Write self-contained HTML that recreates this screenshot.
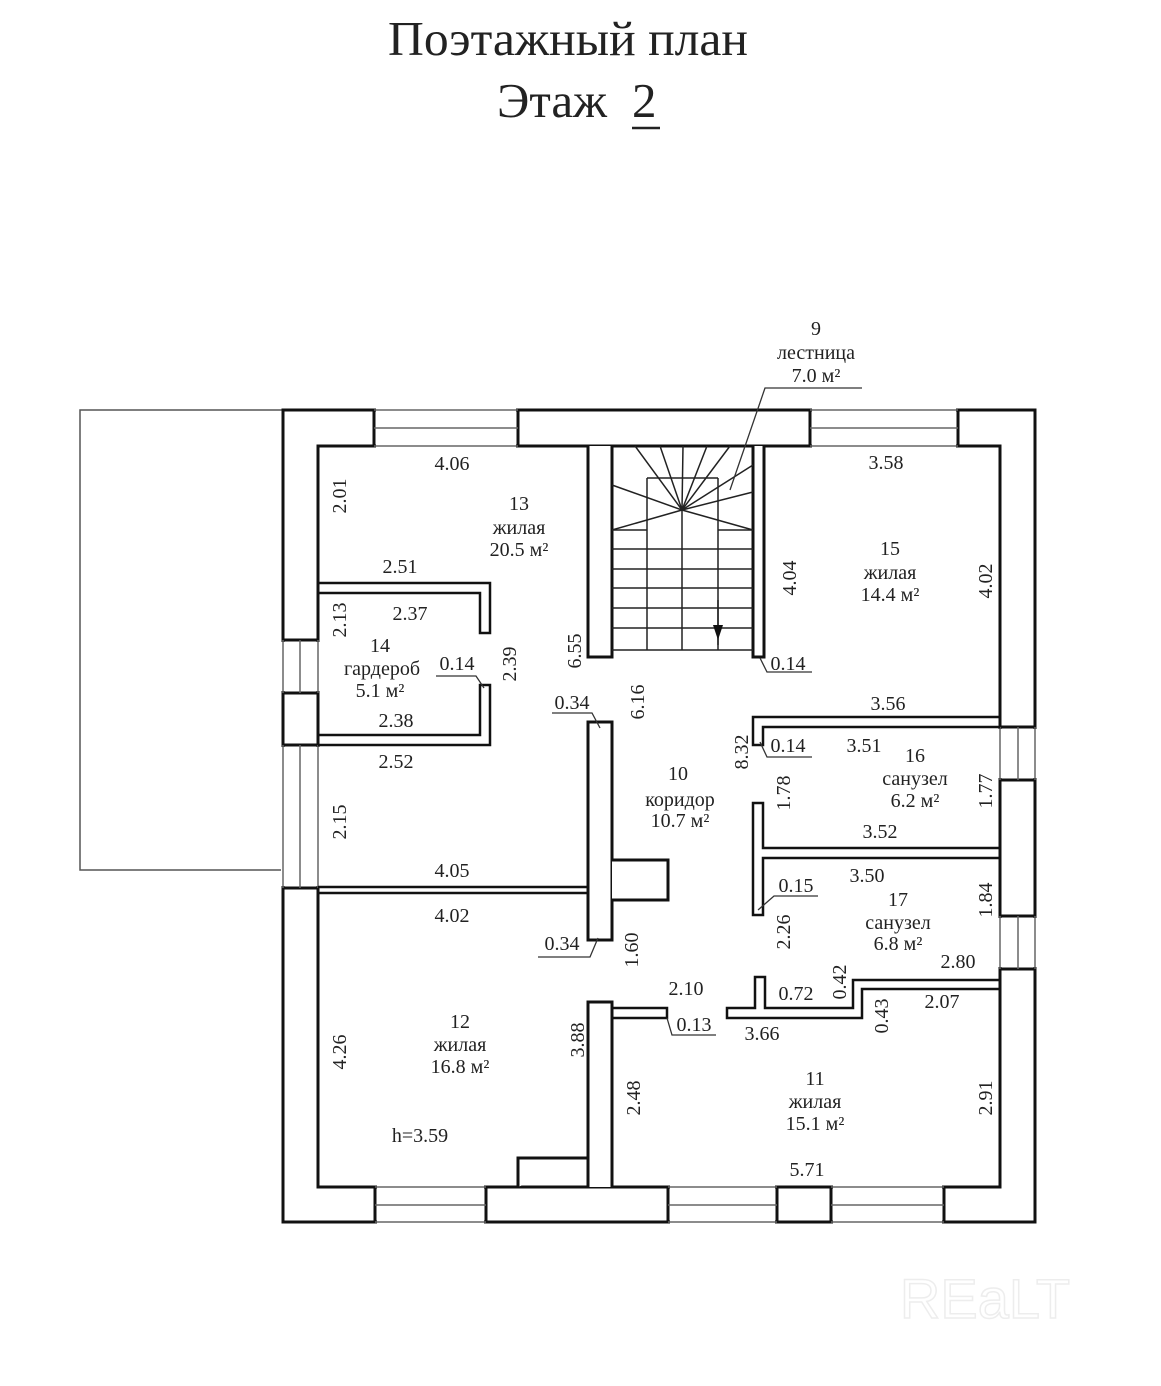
<!DOCTYPE html>
<html><head><meta charset="utf-8"><style>
html,body{margin:0;padding:0;background:#fff}
svg{display:block}
text{font-family:"Liberation Serif","DejaVu Serif",serif;fill:#222}
.l{font-size:20px}
</style></head><body>
<svg width="1161" height="1386" viewBox="0 0 1161 1386" xmlns="http://www.w3.org/2000/svg">
<rect width="1161" height="1386" fill="#fff"/>
<text x="568" y="55" font-size="49" text-anchor="middle" textLength="360" lengthAdjust="spacingAndGlyphs">Поэтажный план</text>
<text x="497" y="117" font-size="49">Этаж</text>
<text x="632" y="117" font-size="49">2</text>
<line x1="632" y1="128" x2="660" y2="128" stroke="#222" stroke-width="2.5"/>

<!-- annex -->
<polyline points="283,410 80,410 80,870 283,870" fill="none" stroke="#555" stroke-width="1.5"/>

<g stroke="#111" fill="none" stroke-width="3">
<rect x="283" y="410" width="752" height="812"/>
<rect x="318" y="446" width="682" height="741"/>
</g>
<g fill="#fff">
<rect x="376" y="408" width="140" height="40"/>
<rect x="812" y="408" width="144" height="40"/>
<rect x="281" y="642" width="39" height="49"/>
<rect x="281" y="747" width="39" height="139"/>
<rect x="998" y="729" width="39" height="49"/>
<rect x="998" y="918" width="39" height="49"/>
<rect x="377" y="1185" width="107" height="39"/>
<rect x="670" y="1185" width="105" height="39"/>
<rect x="833" y="1185" width="109" height="39"/>
</g>
<g stroke="#111" stroke-width="3" fill="none">
<line x1="374" y1="410" x2="374" y2="446"/><line x1="518" y1="410" x2="518" y2="446"/>
<line x1="810" y1="410" x2="810" y2="446"/><line x1="958" y1="410" x2="958" y2="446"/>
<line x1="283" y1="640" x2="318" y2="640"/><line x1="283" y1="693" x2="318" y2="693"/>
<line x1="283" y1="745" x2="318" y2="745"/><line x1="283" y1="888" x2="318" y2="888"/>
<line x1="1000" y1="727" x2="1035" y2="727"/><line x1="1000" y1="780" x2="1035" y2="780"/>
<line x1="1000" y1="916" x2="1035" y2="916"/><line x1="1000" y1="969" x2="1035" y2="969"/>
<line x1="375" y1="1187" x2="375" y2="1222"/><line x1="486" y1="1187" x2="486" y2="1222"/>
<line x1="668" y1="1187" x2="668" y2="1222"/><line x1="777" y1="1187" x2="777" y2="1222"/>
<line x1="831" y1="1187" x2="831" y2="1222"/><line x1="944" y1="1187" x2="944" y2="1222"/>
</g>
<g stroke="#666" stroke-width="1.5" fill="none">
<line x1="374" y1="410" x2="518" y2="410"/><line x1="374" y1="428" x2="518" y2="428"/><line x1="374" y1="446" x2="518" y2="446"/>
<line x1="810" y1="410" x2="958" y2="410"/><line x1="810" y1="428" x2="958" y2="428"/><line x1="810" y1="446" x2="958" y2="446"/>
<line x1="283" y1="640" x2="283" y2="693"/><line x1="300" y1="640" x2="300" y2="693"/><line x1="318" y1="640" x2="318" y2="693"/>
<line x1="283" y1="745" x2="283" y2="888"/><line x1="300" y1="745" x2="300" y2="888"/><line x1="318" y1="745" x2="318" y2="888"/>
<line x1="1000" y1="727" x2="1000" y2="780"/><line x1="1018" y1="727" x2="1018" y2="780"/><line x1="1035" y1="727" x2="1035" y2="780"/>
<line x1="1000" y1="916" x2="1000" y2="969"/><line x1="1018" y1="916" x2="1018" y2="969"/><line x1="1035" y1="916" x2="1035" y2="969"/>
<line x1="375" y1="1187" x2="486" y2="1187"/><line x1="375" y1="1205" x2="486" y2="1205"/><line x1="375" y1="1222" x2="486" y2="1222"/>
<line x1="668" y1="1187" x2="777" y2="1187"/><line x1="668" y1="1205" x2="777" y2="1205"/><line x1="668" y1="1222" x2="777" y2="1222"/>
<line x1="831" y1="1187" x2="944" y2="1187"/><line x1="831" y1="1205" x2="944" y2="1205"/><line x1="831" y1="1222" x2="944" y2="1222"/>
</g>

<g stroke="#111" stroke-width="3" fill="#fff">
<polyline points="588,446 588,657 612,657 612,446"/>
<polyline points="753,446 753,657 764,657 764,446"/>
<rect x="588" y="722" width="24" height="218"/>
<polyline points="612,860 668,860 668,900 612,900"/>
<polyline points="588,1187 588,1002 612,1002 612,1187"/>
<polyline points="518,1187 518,1158 588,1158"/>
</g>
<g stroke="#111" stroke-width="2.5" fill="none">
<polyline points="318,583 490,583 490,633 480,633 480,593 318,593"/>
<polyline points="318,745 490,745 490,685 480,685 480,735 318,735"/>
<line x1="318" y1="887" x2="588" y2="887"/><line x1="318" y1="893" x2="588" y2="893"/>
<polyline points="1000,717 753,717 753,745 763,745 763,727 1000,727"/>
<polyline points="1000,848 763,848 763,803 753,803 753,915 763,915 763,858 1000,858"/>
<polyline points="612,1008 667,1008 667,1018 612,1018"/>
<polyline points="1000,980 853,980 853,1008 765,1008 765,977 755,977 755,1008 727,1008 727,1018 862,1018 862,989 1000,989"/>
</g>

<g stroke="#222" stroke-width="1.5" fill="none">
<line x1="612" y1="650" x2="753" y2="650"/>
<line x1="612" y1="530" x2="647" y2="530"/><line x1="718" y1="530" x2="753" y2="530"/>
<line x1="612" y1="549" x2="753" y2="549"/><line x1="612" y1="569" x2="753" y2="569"/>
<line x1="612" y1="588" x2="753" y2="588"/><line x1="612" y1="608" x2="753" y2="608"/>
<line x1="612" y1="628" x2="753" y2="628"/>
<line x1="647" y1="478" x2="647" y2="650"/><line x1="718" y1="478" x2="718" y2="650"/>
<line x1="682" y1="510" x2="682" y2="650"/><line x1="647" y1="478" x2="718" y2="478"/>
<line x1="682" y1="510" x2="612" y2="530"/><line x1="682" y1="510" x2="612" y2="485"/>
<line x1="682" y1="510" x2="635" y2="446"/><line x1="682" y1="510" x2="660" y2="446"/>
<line x1="682" y1="510" x2="683" y2="446"/><line x1="682" y1="510" x2="707" y2="446"/>
<line x1="682" y1="510" x2="730" y2="446"/><line x1="682" y1="510" x2="753" y2="465"/>
<line x1="682" y1="510" x2="753" y2="492"/><line x1="682" y1="510" x2="753" y2="530"/>
<line x1="718" y1="600" x2="718" y2="645"/>
</g>
<polygon points="713,625 723,625 718,640" fill="#111"/>

<g stroke="#333" stroke-width="1.3" fill="none">
<polyline points="862,388 765,388 730,490"/>
<polyline points="436,676 476,676 484,688"/>
<polyline points="552,713 592,713 600,728"/>
<polyline points="538,957 590,957 598,938"/>
<polyline points="767,672 812,672 767,672 760,658"/>
<polyline points="767,757 812,757 767,757 760,742"/>
<polyline points="818,896 774,896 758,910"/>
<polyline points="716,1035 672,1035 667,1018"/>
</g>

<g class="l" text-anchor="middle">
<text x="816" y="335">9</text><text x="816" y="359">лестница</text><text x="816" y="382">7.0 м²</text>
<text x="452" y="470">4.06</text>
<text x="519" y="510">13</text><text x="519" y="534">жилая</text><text x="519" y="556">20.5 м²</text>
<text x="400" y="573">2.51</text>
<text x="410" y="620">2.37</text>
<text x="380" y="652">14</text><text x="382" y="675">гардероб</text><text x="380" y="697">5.1 м²</text>
<text x="457" y="670">0.14</text>
<text x="396" y="727">2.38</text>
<text x="396" y="768">2.52</text>
<text x="572" y="709">0.34</text>
<text x="452" y="877">4.05</text>
<text x="452" y="922">4.02</text>
<text x="562" y="950">0.34</text>
<text x="460" y="1028">12</text><text x="460" y="1051">жилая</text><text x="460" y="1073">16.8 м²</text>
<text x="420" y="1142">h=3.59</text>
<text x="886" y="469">3.58</text>
<text x="890" y="555">15</text><text x="890" y="579">жилая</text><text x="890" y="601">14.4 м²</text>
<text x="788" y="670">0.14</text>
<text x="888" y="710">3.56</text>
<text x="788" y="752">0.14</text>
<text x="864" y="752">3.51</text>
<text x="915" y="762">16</text><text x="915" y="785">санузел</text><text x="915" y="807">6.2 м²</text>
<text x="678" y="780">10</text><text x="680" y="806">коридор</text><text x="680" y="827">10.7 м²</text>
<text x="880" y="838">3.52</text>
<text x="867" y="882">3.50</text>
<text x="796" y="892">0.15</text>
<text x="898" y="906">17</text><text x="898" y="929">санузел</text><text x="898" y="950">6.8 м²</text>
<text x="958" y="968">2.80</text>
<text x="686" y="995">2.10</text>
<text x="796" y="1000">0.72</text>
<text x="942" y="1008">2.07</text>
<text x="694" y="1031">0.13</text>
<text x="762" y="1040">3.66</text>
<text x="815" y="1085">11</text><text x="815" y="1108">жилая</text><text x="815" y="1130">15.1 м²</text>
<text x="807" y="1176">5.71</text>
</g>
<g class="l" text-anchor="middle">
<text transform="translate(346,496) rotate(-90)">2.01</text>
<text transform="translate(346,620) rotate(-90)">2.13</text>
<text transform="translate(516,664) rotate(-90)">2.39</text>
<text transform="translate(581,651) rotate(-90)">6.55</text>
<text transform="translate(644,702) rotate(-90)">6.16</text>
<text transform="translate(346,822) rotate(-90)">2.15</text>
<text transform="translate(346,1052) rotate(-90)">4.26</text>
<text transform="translate(584,1040) rotate(-90)">3.88</text>
<text transform="translate(638,950) rotate(-90)">1.60</text>
<text transform="translate(640,1098) rotate(-90)">2.48</text>
<text transform="translate(796,578) rotate(-90)">4.04</text>
<text transform="translate(992,581) rotate(-90)">4.02</text>
<text transform="translate(748,752) rotate(-90)">8.32</text>
<text transform="translate(790,793) rotate(-90)">1.78</text>
<text transform="translate(992,791) rotate(-90)">1.77</text>
<text transform="translate(992,900) rotate(-90)">1.84</text>
<text transform="translate(790,932) rotate(-90)">2.26</text>
<text transform="translate(846,982) rotate(-90)">0.42</text>
<text transform="translate(888,1016) rotate(-90)">0.43</text>
<text transform="translate(992,1098) rotate(-90)">2.91</text>
</g>
<text x="985" y="1318" font-size="56" text-anchor="middle" style="font-family:'Liberation Sans',sans-serif;fill:none;stroke:#ededed;stroke-width:1.5">REaLT</text>
</svg>
</body></html>
